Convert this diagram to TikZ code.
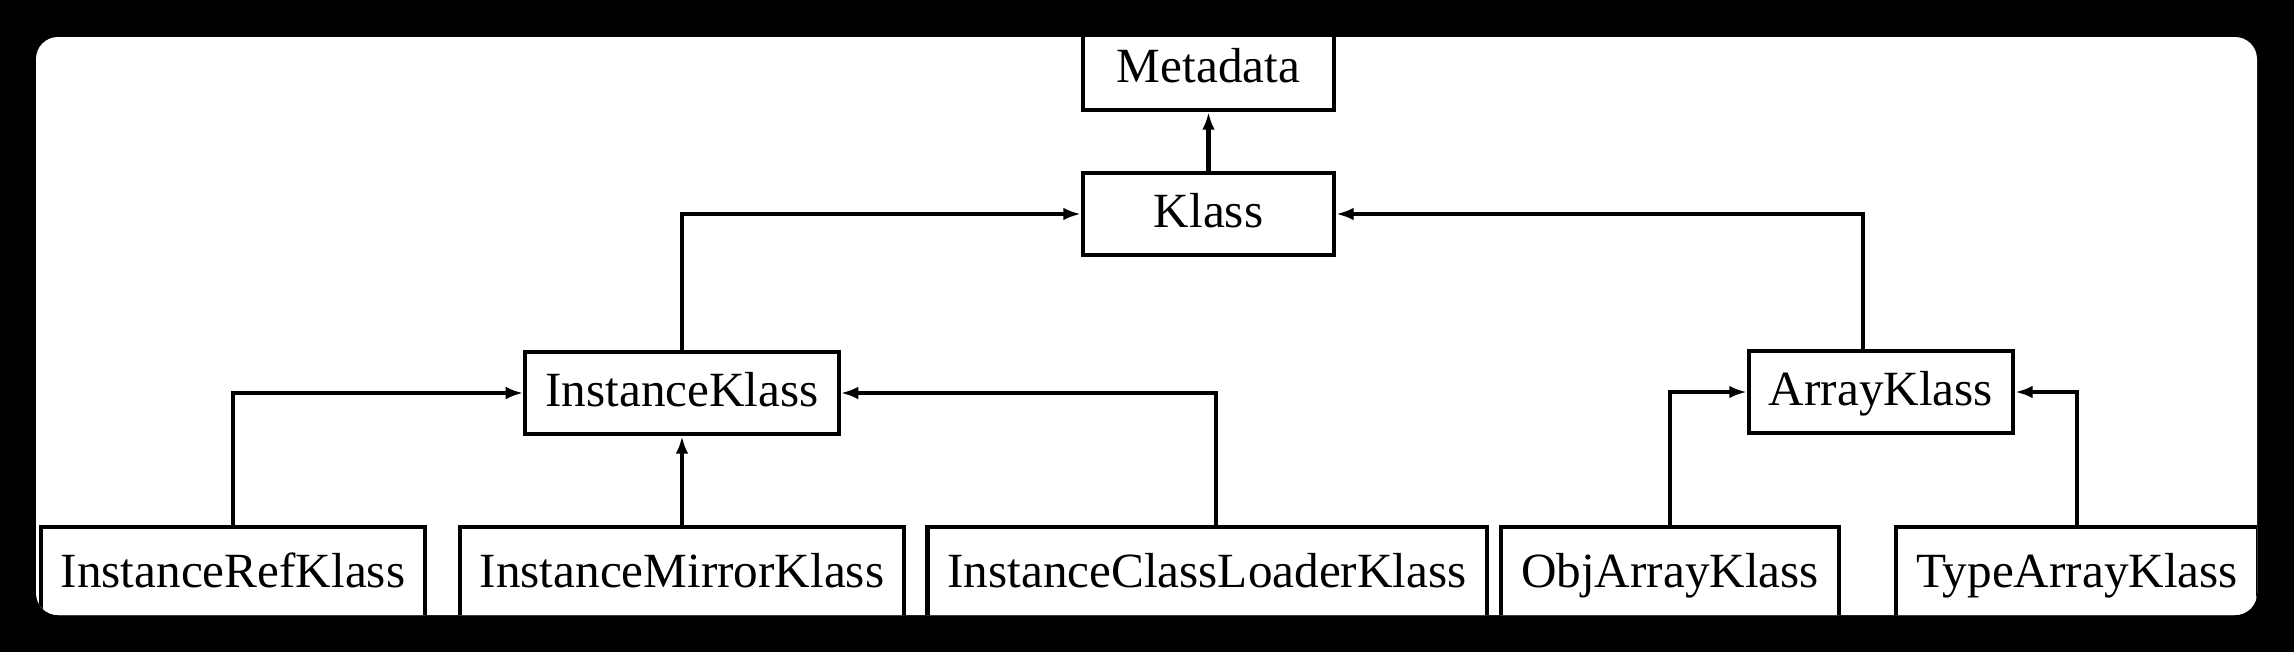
\documentclass[tikz,border=0pt]{standalone}
\usepackage{fontspec}
\setmainfont{Liberation Serif}
\usetikzlibrary{arrows.meta}
\begin{document}
\begin{tikzpicture}
  [line width=1.2pt,>={Latex[length=5pt,width=3.6pt]},
   every node/.style={draw,rectangle,fill=white,font=\fontsize{14}{16}\selectfont,
     inner xsep=0.2cm,inner ysep=0pt,text height=0.54cm,text depth=0.28cm},
   topbox/.style={minimum width=2.51cm},
   leafbox/.style={anchor=north,text height=0.6cm,text depth=0.4cm}]
  % frame
  \fill[black] (0,0) rectangle (22.94,-6.52);
  \fill[white,rounded corners=0.22cm] (0.36,-0.37) rectangle (22.57,-6.15);
  \begin{scope}
  \clip[rounded corners=0.22cm] (0.36,-0.37) rectangle (22.57,-6.15);
  \node[topbox] (md) at (12.085,-0.69) {Metadata};
  \node[topbox] (kl) at (12.085,-2.14) {Klass};
  \node (ik) at (6.82,-3.93) {InstanceKlass};
  \node (ak) at (18.81,-3.92) {ArrayKlass};
  \node[leafbox] (irk) at (2.33,-5.25) {InstanceRefKlass};
  \node[leafbox] (imk) at (6.82,-5.25) {InstanceMirrorKlass};
  \node[leafbox] (iclk) at (12.07,-5.25) {InstanceClassLoaderKlass};
  \node[leafbox] (oak) at (16.70,-5.25) {ObjArrayKlass};
  \node[leafbox] (tak) at (20.77,-5.25) {TypeArrayKlass};

  \foreach \from/\to in {kl/md,imk/ik}
    \draw[->] (\from) -- (\to);
  \foreach \from/\to in {ik/kl,irk/ik,oak/ak,tak/ak}
    \draw[->] (\from) |- (\to);
  \draw[->] ([xshift=-0.18cm]ak.north) |- (kl);
  \draw[->] ([xshift=0.09cm]iclk.north) |- (ik);
  \end{scope}
\end{tikzpicture}
\end{document}
